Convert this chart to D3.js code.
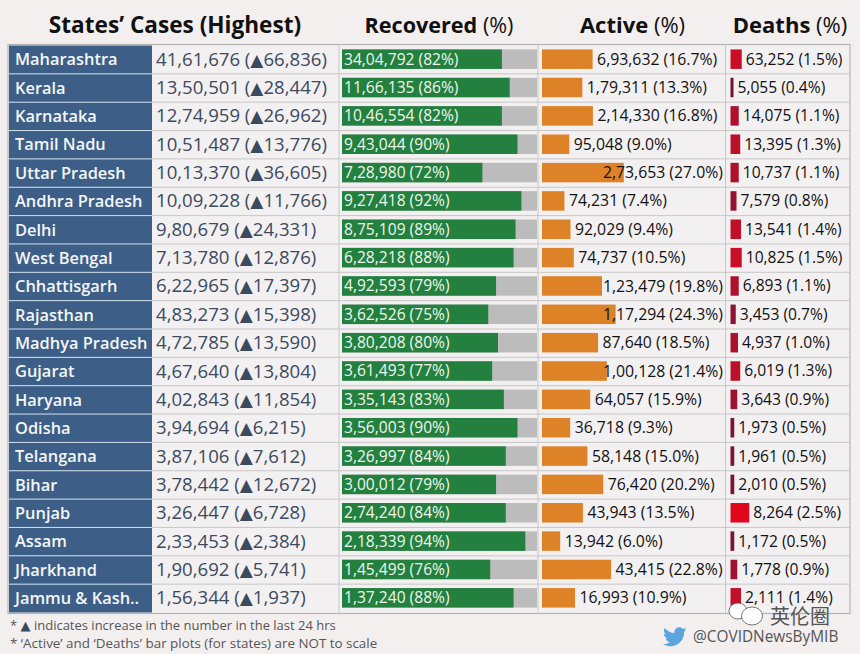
<!DOCTYPE html>
<html><head><meta charset="utf-8">
<script src="https://cdn.jsdelivr.net/npm/d3@7"></script>
<style>html,body{margin:0;padding:0;background:#f3efef}svg{display:block}</style>
</head><body><svg id="c" width="860" height="654"></svg>
<script>
const states=["Maharashtra","Kerala","Karnataka","Tamil Nadu","Uttar Pradesh","Andhra Pradesh","Delhi","West Bengal","Chhattisgarh","Rajasthan","Madhya Pradesh","Gujarat","Haryana","Odisha","Telangana","Bihar","Punjab","Assam","Jharkhand","Jammu & Kash.."];
const cases=["41,61,676","13,50,501","12,74,959","10,51,487","10,13,370","10,09,228","9,80,679","7,13,780","6,22,965","4,83,273","4,72,785","4,67,640","4,02,843","3,94,694","3,87,106","3,78,442","3,26,447","2,33,453","1,90,692","1,56,344"];
const increases=["66,836","28,447","26,962","13,776","36,605","11,766","24,331","12,876","17,397","15,398","13,590","13,804","11,854","6,215","7,612","12,672","6,728","2,384","5,741","1,937"];
const recovered=["34,04,792","11,66,135","10,46,554","9,43,044","7,28,980","9,27,418","8,75,109","6,28,218","4,92,593","3,62,526","3,80,208","3,61,493","3,35,143","3,56,003","3,26,997","3,00,012","2,74,240","2,18,339","1,45,499","1,37,240"];
const recoveredPct=[82,86,82,90,72,92,89,88,79,75,80,77,83,90,84,79,84,94,76,88];
const active=["6,93,632","1,79,311","2,14,330","95,048","2,73,653","74,231","92,029","74,737","1,23,479","1,17,294","87,640","1,00,128","64,057","36,718","58,148","76,420","43,943","13,942","43,415","16,993"];
const activePct=[16.7,13.3,16.8,9.0,27.0,7.4,9.4,10.5,19.8,24.3,18.5,21.4,15.9,9.3,15.0,20.2,13.5,6.0,22.8,10.9];
const deaths=["63,252","5,055","14,075","13,395","10,737","7,579","13,541","10,825","6,893","3,453","4,937","6,019","3,643","1,973","1,961","2,010","8,264","1,172","1,778","2,111"];
const deathsPct=[1.5,0.4,1.1,1.3,1.1,0.8,1.4,1.5,1.1,0.7,1.0,1.3,0.9,0.5,0.5,0.5,2.5,0.5,0.9,1.4];
const headers=[["States’ Cases (Highest)",""],["Recovered"," (%)"],["Active"," (%)"],["Deaths"," (%)"]];
const headerX=[175,439,632.5,790];
const headerSize=[22.6,21.6,22,22];
const noteLines=[["* ","▲"," indicates increase in the number in the last 24 hrs"],["* ‘Active’ and ‘Deaths’ bar plots (for states) are NOT to scale","",""]];
const noteSize=[13,13.4];
const FONT="'Open Sans','Noto Sans',sans-serif";
const TRI="'DejaVu Sans'";
const svg=d3.select("#c").style("font-family",FONT);
const T=45.5,B=612.5,L=8,R=850;
const y=d3.scaleBand().domain(states).range([T,B]);
const xRec=d3.scaleLinear().domain([0,100]).range([342,537]);
const xAct=d3.scaleLinear().domain([0,100]).range([542,845]);
const xDea=d3.scaleLinear().domain([0,10]).range([730.5,805.5]);
const deathColor=d3.scaleLinear().domain([0.4,1,1.5,2.5]).range(["#6e1535","#a8122e","#c80f27","#e0061c"]);
const idx=d3.range(states.length);
svg.append("rect").attr("x",L).attr("y",T-1).attr("width",R-L).attr("height",B-T+2).attr("fill","#f3f0f1").attr("stroke","#b4b4b4").attr("stroke-width",1.2);
svg.append("g").selectAll("rect").data(idx).join("rect").attr("x",9).attr("y",i=>y(states[i])).attr("width",143).attr("height",y.bandwidth()).attr("fill","#3d5f87");
svg.append("g").selectAll("line").data(idx.slice(1)).join("line").attr("x1",152).attr("x2",R).attr("y1",i=>y(states[i])).attr("y2",i=>y(states[i])).attr("stroke","#c8c6c6");
svg.append("g").selectAll("line").data(idx.slice(1)).join("line").attr("x1",9).attr("x2",152).attr("y1",i=>y(states[i])).attr("y2",i=>y(states[i])).attr("stroke","#cfe0ee");
svg.append("g").selectAll("line").data([339,538,725.5]).join("line").attr("x1",d=>d).attr("x2",d=>d).attr("y1",T-1).attr("y2",B+1).attr("stroke","#c8c6c6");
const hdr=svg.append("g").selectAll("text").data(headers).join("text").attr("x",(d,i)=>headerX[i]).attr("y",33).attr("text-anchor","middle").attr("font-size",(d,i)=>headerSize[i]).attr("fill","#111");
hdr.append("tspan").attr("font-weight",700).text(d=>d[0]);
hdr.append("tspan").attr("font-weight",400).text(d=>d[1]);
const cy=i=>y(states[i])+y.bandwidth()/2-0.5;
svg.append("g").selectAll("text").data(idx).join("text").attr("x",15).attr("y",i=>cy(i)+0.5).attr("dy",".35em").attr("font-size",16.4).attr("font-weight",600).attr("fill","#f4f6f8").text(i=>states[i]);
const cText=svg.append("g").selectAll("text").data(idx).join("text").attr("x",156).attr("y",i=>cy(i)).attr("dy",".35em").attr("font-size",18.6).attr("fill","#3c4a5e");
cText.append("tspan").text(i=>`${cases[i]} (`);
cText.append("tspan").attr("font-family",TRI).attr("font-size",17).text("▲");
cText.append("tspan").text(i=>`${increases[i]})`);
const barH=19.5;
svg.append("g").selectAll("rect").data(idx).join("rect").attr("x",xRec(0)).attr("y",i=>cy(i)-barH/2).attr("width",xRec(100)-xRec(0)).attr("height",barH).attr("fill","#bcbcbc");
svg.append("g").selectAll("rect").data(idx).join("rect").attr("x",xRec(0)).attr("y",i=>cy(i)-barH/2).attr("width",i=>xRec(recoveredPct[i])-xRec(0)).attr("height",barH).attr("fill","#24803f");
svg.append("g").selectAll("text").data(idx).join("text").attr("x",344).attr("y",i=>cy(i)).attr("dy",".35em").attr("font-size",15.6).attr("fill","#eef7ee").text(i=>`${recovered[i]} (${recoveredPct[i]}%)`);
svg.append("g").selectAll("rect").data(idx).join("rect").attr("x",xAct(0)).attr("y",i=>cy(i)-barH/2).attr("width",i=>xAct(activePct[i])-xAct(0)).attr("height",barH).attr("fill","#dd8227");
const aText=svg.append("g").selectAll("text").data(idx).join("text").attr("y",i=>cy(i)).attr("dy",".35em").attr("font-size",15.8).attr("fill","#111").text(i=>`${active[i]} (${activePct[i].toFixed(1)}%)`);
aText.attr("x",function(i){const w=this.getComputedTextLength();return Math.min(xAct(activePct[i])+4.5,723-w)});
svg.append("g").selectAll("rect").data(idx).join("rect").attr("x",xDea(0)).attr("y",i=>cy(i)-barH/2).attr("width",i=>xDea(deathsPct[i])-xDea(0)).attr("height",barH).attr("fill",i=>deathColor(deathsPct[i]));
svg.append("g").selectAll("text").data(idx).join("text").attr("x",i=>xDea(deathsPct[i])+4).attr("y",i=>cy(i)).attr("dy",".35em").attr("font-size",15.6).attr("fill","#111").text(i=>`${deaths[i]} (${deathsPct[i].toFixed(1)}%)`);
const nText=svg.append("g").selectAll("text").data(noteLines).join("text").attr("x",10).attr("y",(d,i)=>630+i*18).attr("font-size",(d,i)=>noteSize[i]).attr("fill","#555");
nText.append("tspan").text(d=>d[0]);
nText.append("tspan").attr("font-family",TRI).attr("fill","#3c4a5e").text(d=>d[1]);
nText.append("tspan").text(d=>d[2]);
// WeChat-style watermark
const wm=svg.append("g").attr("fill","#fff").attr("stroke","#555").attr("stroke-width",0.8);
wm.append("ellipse").attr("cx",738).attr("cy",611).attr("rx",9).attr("ry",8);
wm.append("ellipse").attr("cx",752).attr("cy",616).attr("rx",10.5).attr("ry",9);
svg.append("text").attr("x",770).attr("y",624).attr("font-size",20).attr("fill","#555").attr("font-family","'Noto Sans CJK SC'").text("英伦圈");
// Twitter-style bird
svg.append("path").attr("transform","translate(663,625) scale(0.98)").attr("fill","#5aa5dc").attr("d","M24 4.6c-.9.4-1.8.7-2.8.8 1-.6 1.8-1.6 2.2-2.7-1 .6-2 1-3.1 1.2C19.3 2.8 18 2.2 16.6 2.2c-2.7 0-4.9 2.2-4.9 4.9 0 .4 0 .8.1 1.1C7.700 8 4.100 6 1.700 3c-.4.7-.7 1.600-.7 2.500 0 1.700.9 3.200 2.200 4.100-.8 0-1.600-.2-2.200-.6v.1c0 2.400 1.700 4.400 3.900 4.800-.4.1-.8.2-1.300.2-.3 0-.6 0-.9-.1.6 2 2.400 3.400 4.600 3.400-1.700 1.300-3.800 2.100-6.100 2.100-.4 0-.8 0-1.200-.1 2.200 1.400 4.800 2.200 7.500 2.200 9.100 0 14-7.500 14-14v-.6c1-.7 1.800-1.600 2.500-2.500z");
svg.append("text").attr("x",693).attr("y",642).attr("font-size",15.4).attr("fill","#555").text("@COVIDNewsByMIB");
</script></body></html>
